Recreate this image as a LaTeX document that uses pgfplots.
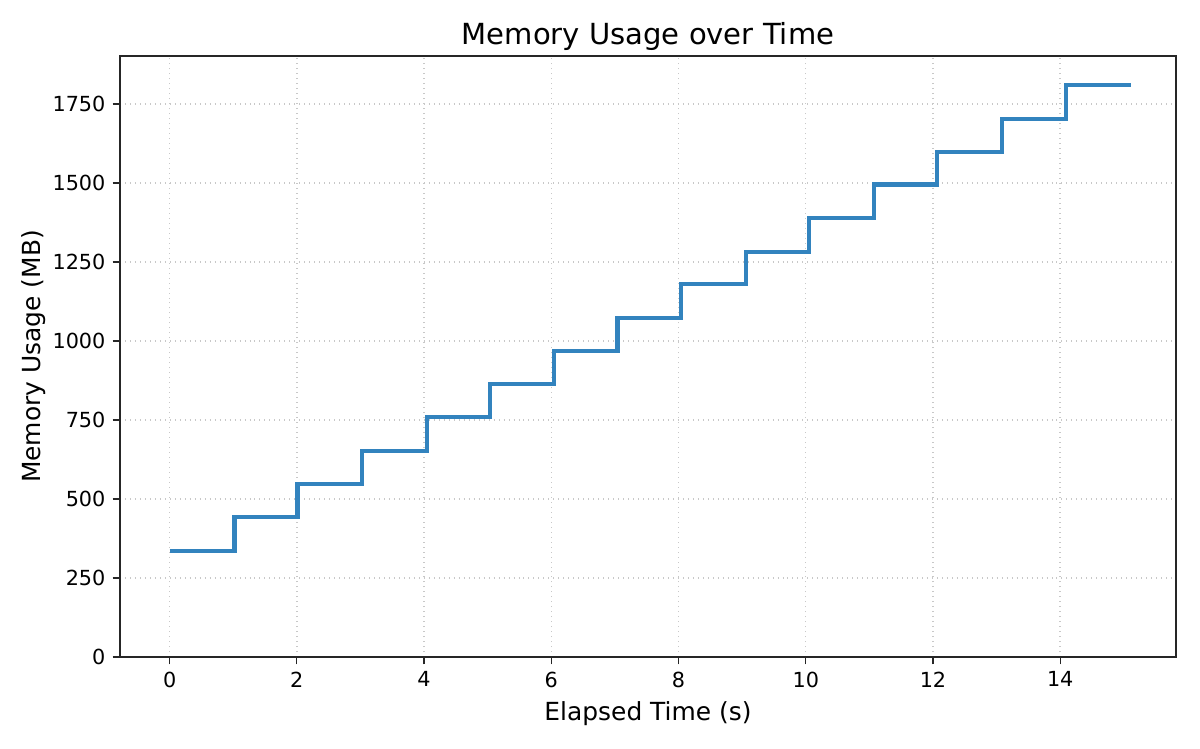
\documentclass[border=0pt]{standalone}
\usepackage{pgfplots}
\pgfplotsset{compat=1.18}
\usepackage{fontspec}
\setmainfont{DejaVu Sans}
\definecolor{lineblue}{HTML}{3283BE}
\definecolor{gridgray}{HTML}{C8C8C8}
\begin{document}
\begin{tikzpicture}
\path[use as bounding box] (-0.8in,-0.6133in) rectangle (7.2in,4.38in);
\begin{axis}[
  at={(0,0)}, anchor=south west,
  scale only axis, width=7.04in, height=4.007in,
  xmin=-0.78, xmax=15.82, ymin=0, ymax=1902,
  xtick={0,2,...,14}, ytick={0,250,...,1750},
  /pgf/number format/assume math mode=true,
  /pgf/number format/1000 sep={},
  tick label style={font=\fontsize{10}{12}\selectfont},
  xlabel={Elapsed Time (s)}, ylabel={Memory Usage (MB)},
  label style={font=\fontsize{12}{14}\selectfont},
  title={Memory Usage over Time},
  title style={font=\fontsize{14}{16}\selectfont, yshift=-7pt},
  grid=major, major grid style={gridgray, dotted, line width=0.7pt},
  axis line style={line width=0.6pt, black!85},
  tick style={black!85, line width=0.6pt},
  tick align=outside, xtick pos=bottom, ytick pos=left,
  major tick length=3.5pt,
  xlabel style={yshift=0pt},
  ylabel style={yshift=-3.5pt},
]
\addplot[const plot, lineblue, line width=2pt] coordinates {
(0,335) (1.02,442) (2.01,548) (3.02,652) (4.04,760) (5.03,865) (6.04,968)
(7.04,1073) (8.04,1180) (9.06,1282) (10.05,1390) (11.07,1495) (12.06,1598)
(13.08,1703) (14.09,1810) (15.11,1810)
};
\end{axis}
\end{tikzpicture}
\end{document}
